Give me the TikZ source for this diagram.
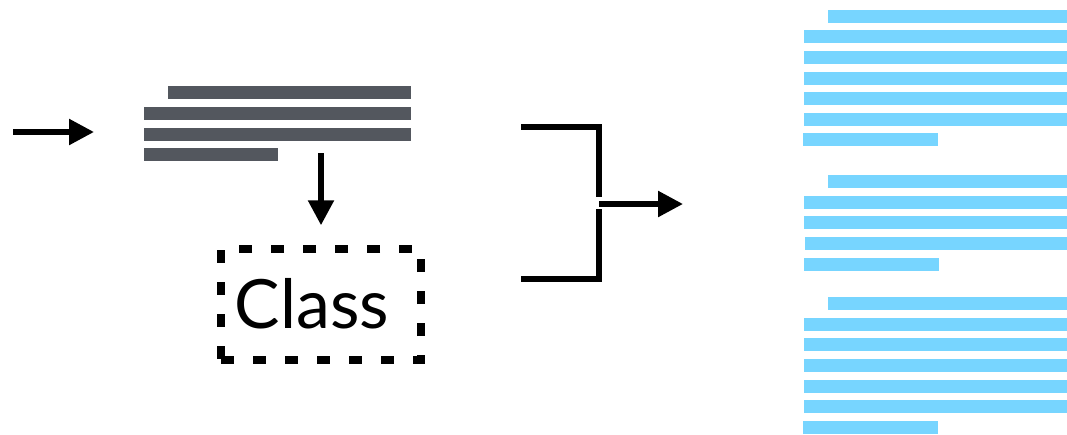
\documentclass[tikz,border=0pt]{standalone}
\usepackage{fontspec}
\setmainfont{Lato}
\usetikzlibrary{arrows.meta, positioning}
\definecolor{barslate}{HTML}{53575E}
\definecolor{barsky}{HTML}{77D5FF}

\begin{document}
\begin{tikzpicture}[x=1pt, y=-1pt, >={Triangle[length=25pt, width=25pt]},
	graybar/.style={fill=barslate},
	bluebar/.style={fill=barsky},
	flow/.style={line width=5.5pt, ->},
	bracket/.style={line width=5.5pt, line join=miter},
	classbox/.style={draw, line width=7.5pt, dash pattern=on 13pt off 19pt,
		minimum width=200pt, minimum height=111pt, inner sep=0pt}]
		
		\useasboundingbox (0,0) rectangle (1067,434);
		
		% Incoming arrow
		\coordinate (in) at (13,132);
		\coordinate (inend) at (94,132);
		\draw[flow] (in) -- (inend);
		
		% Gray text block
		\fill[graybar] (168,86) rectangle (411,99);
		\fill[graybar] (144,107) rectangle (411,120);
		\fill[graybar] (144,128) rectangle (411,141);
		\fill[graybar] (144,148) rectangle (278,161);
		
		% Dashed class box
		\node[classbox] (cls) at (321,304.5) {};
		\node[inner sep=0pt, font=\fontsize{68}{78}\selectfont] (clstext) at (312,304) {Class};
		
		% Arrow from text to class
		\coordinate (split) at (321,153);
		\draw[flow] (split) -- ([yshift=20pt]cls.north);
		
		% Bracket joining both
		\coordinate (top) at (521,127);
		\coordinate (bot) at (521,279);
		\coordinate (join) at (599,204);
		\coordinate (out) at (683,204);
		\draw[bracket] (top) -| ([yshift=7pt]join);
		\draw[bracket] (bot) -| ([yshift=-5pt]join);
		\draw[flow] (join) -- (out);
		
		% Blue text, first paragraph
		\fill[bluebar] (828,10) rectangle (1067,23);
		\fill[bluebar] (804,30) rectangle (1067,43);
		\fill[bluebar] (804,51) rectangle (1067,64);
		\fill[bluebar] (804,72) rectangle (1067,85);
		\fill[bluebar] (804,92) rectangle (1067,105);
		\fill[bluebar] (804,113) rectangle (1067,126);
		\fill[bluebar] (803,133) rectangle (938,146);
		
		% Blue text, second paragraph
		\fill[bluebar] (828,175) rectangle (1067,188);
		\fill[bluebar] (804,196) rectangle (1067,209);
		\fill[bluebar] (804,216) rectangle (1067,229);
		\fill[bluebar] (805,237) rectangle (1067,250);
		\fill[bluebar] (804,258) rectangle (939,271);
		
		% Blue text, third paragraph
		\fill[bluebar] (828,297) rectangle (1067,310);
		\fill[bluebar] (804,318) rectangle (1067,331);
		\fill[bluebar] (804,338) rectangle (1067,351);
		\fill[bluebar] (804,359) rectangle (1067,372);
		\fill[bluebar] (804,380) rectangle (1067,393);
		\fill[bluebar] (804,400) rectangle (1067,413);
		\fill[bluebar] (803,421) rectangle (938,434);
		
	\end{tikzpicture}
\end{document}
